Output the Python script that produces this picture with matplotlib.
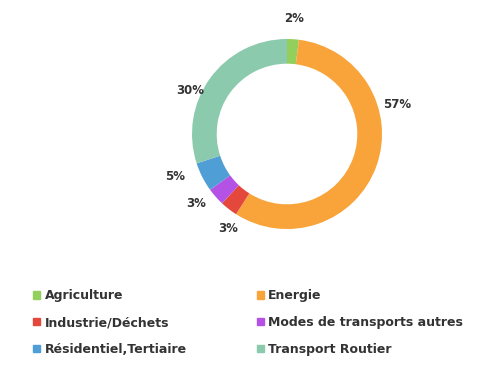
import matplotlib
matplotlib.use('Agg')
import matplotlib.pyplot as plt
import numpy as np
from matplotlib.patches import Patch

categories = ['Agriculture', 'Energie', 'Industrie/Déchets',
              'Modes de transports autres', 'Résidentiel,Tertiaire', 'Transport Routier']
values = [2, 57, 3, 3, 5, 30]
colors = ['#92cf5c', '#f9a43a', '#e4483d', '#b552e6', '#4f9ed6', '#8ccaae']
# legend order (row by row, two columns)
legend_order = [0, 1, 2, 3, 4, 5]

fig = plt.figure(figsize=(4.83, 3.73), dpi=100)
ax = fig.add_axes([163.5/483, 115.5/373, 247/483, 247/373])

wedges, _ = ax.pie(values, colors=colors, startangle=90, counterclock=False,
                   radius=1.0, wedgeprops=dict(width=0.26, edgecolor='none'))

# percentage labels outside the ring
shift = [0, 35, 6, -4, -6, 12]   # degrees, Excel-like placement
dist = [1.22, 1.2, 1.17, 1.2, 1.26, 1.12]
for w, v, s, d in zip(wedges, values, shift, dist):
    ang = np.deg2rad((w.theta1 + w.theta2) / 2 + s)
    ax.text(d*np.cos(ang), d*np.sin(ang), f'{v}%', ha='center', va='center',
            fontsize=8.5, fontweight='bold', color='#333333')

ax.set_xlim(-1.3, 1.3)
ax.set_ylim(-1.3, 1.3)
ax.set_aspect('equal')
ax.axis('off')

handles = [Patch(color=colors[i]) for i in legend_order]
labels = [categories[i] for i in legend_order]
# matplotlib fills columns first, reorder so rows read left-right
handles = handles[0::2] + handles[1::2]
labels = labels[0::2] + labels[1::2]
fig.legend(handles, labels, loc='upper left', bbox_to_anchor=(22/483, 1-278/373),
           ncol=2, frameon=False, prop=dict(weight='bold', size=9),
           handlelength=0.55, handleheight=0.55, handletextpad=0.35,
           columnspacing=5.6, labelspacing=1.1, labelcolor='#333333')

fig.savefig('out.png', dpi=100)
